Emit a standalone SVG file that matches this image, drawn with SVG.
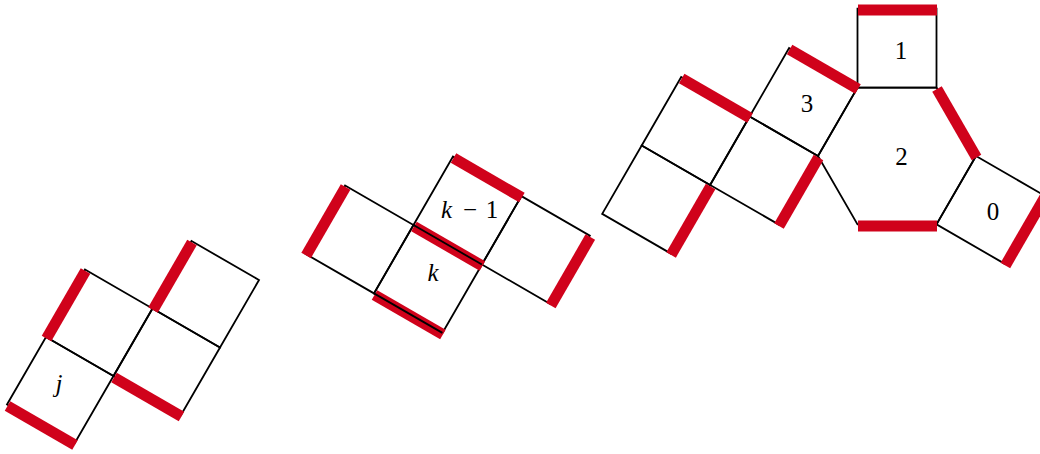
<svg xmlns="http://www.w3.org/2000/svg" width="1040" height="454" viewBox="0 0 1040 454">
<style>
.cell{fill:none;stroke:#000;stroke-width:1.8;stroke-linejoin:miter}
.edge{fill:none;stroke:#000;stroke-width:1.8}
.red{fill:none;stroke:#d0021b;stroke-width:11;stroke-linecap:butt}
.lbl{font-size:25px;fill:#000;text-anchor:middle}
.it{font-style:italic}
</style>
<rect width="1040" height="454" fill="#fff"/>
<!-- Figure 1 -->
<g id="fig1" font-family="'Liberation Serif', 'DejaVu Serif', serif">
<g id="sq-j"><polygon class="cell" points="46,337 113.5,376 74.5,443.5 7,404.5"/><text class="lbl it" x="59" y="392">j</text></g>
<g id="sq-j-tl"><polygon class="cell" points="85,269.5 152.5,308.5 113.5,376 46,337"/></g>
<g id="sq-j-mr"><polygon class="cell" points="152.5,308.5 220,347.5 181,415 113.5,376"/></g>
<g id="sq-j-tr"><polygon class="cell" points="191.5,241 259,280 220,347.5 152.5,308.5"/></g>
</g>
<!-- Figure 2 -->
<g id="fig2" font-family="'Liberation Serif', 'DejaVu Serif', serif">
<g id="sq-left"><polygon class="cell" points="345.1,185.5 413.5,225 374,293.4 305.6,253.9"/></g>
<g id="sq-k1"><polygon class="cell" points="453,156.6 521.4,196.1 481.9,264.5 413.5,225"/><text class="lbl" y="218"><tspan class="it" x="446.5">k</tspan><tspan x="470">−</tspan><tspan x="492">1</tspan></text></g>
<g id="sq-right"><polygon class="cell" points="521.4,196.1 589.8,235.6 550.3,304 481.9,264.5"/></g>
<g id="sq-k"><polygon class="cell" points="413.5,225 481.9,264.5 442.4,332.9 374,293.4"/><text class="lbl it" x="433" y="281">k</text></g>
</g>
<!-- Figure 3 -->
<g id="fig3" font-family="'Liberation Serif', 'DejaVu Serif', serif">
<g id="hex-2"><polygon class="cell" points="857.5,87.6 936.5,87.6 976,156 936.5,224.4 857.5,224.4 818,156"/><text class="lbl" x="901.5" y="165">2</text></g>
<g id="sq-1"><polygon class="cell" points="857.5,8.6 936.5,8.6 936.5,87.6 857.5,87.6"/><text class="lbl" x="901" y="59">1</text></g>
<g id="sq-3"><polygon class="cell" points="789.1,48.1 857.5,87.6 818,156 749.6,116.5"/><text class="lbl" x="807" y="112">3</text></g>
<g id="sq-a"><polygon class="cell" points="749.6,116.5 818,156 778.5,224.4 710.1,185"/></g>
<g id="sq-b"><polygon class="cell" points="681.2,77 749.6,116.5 710.1,185 641.7,145.5"/></g>
<g id="sq-c"><polygon class="cell" points="641.7,145.5 710.1,185 670.6,253.4 602.2,213.9"/></g>
<g id="sq-0"><polygon class="cell" points="976,156 1044.4,195.5 1004.9,263.9 936.5,224.4"/><text class="lbl" x="993" y="220">0</text></g>
</g>
<!-- highlighted edges -->
<g id="connectors" transform="translate(0.5,1.5)">
<line class="red" x1="7" y1="404.5" x2="74.5" y2="443.5"/>
<line class="red" x1="46" y1="337" x2="85" y2="269.5"/>
<line class="red" x1="152.5" y1="308.5" x2="191.5" y2="241"/>
<line class="red" x1="113.5" y1="376" x2="181" y2="415"/>
<line class="red" x1="345.1" y1="185.5" x2="305.6" y2="253.9"/>
<line class="red" x1="453" y1="156.6" x2="521.4" y2="196.1"/>
<line class="red" x1="589.8" y1="235.6" x2="550.3" y2="304"/>
<line class="red" x1="413.5" y1="225" x2="481.9" y2="264.5"/>
<line class="red" x1="374" y1="293.4" x2="442.4" y2="332.9"/>
<line class="red" x1="857.5" y1="8.6" x2="936.5" y2="8.6"/>
<line class="red" x1="789.1" y1="48.1" x2="857.5" y2="87.6"/>
<line class="red" x1="681.2" y1="77" x2="749.6" y2="116.5"/>
<line class="red" x1="936.5" y1="87.6" x2="976" y2="156"/>
<line class="red" x1="857.5" y1="224.4" x2="936.5" y2="224.4"/>
<line class="red" x1="1044.4" y1="195.5" x2="1004.9" y2="263.9"/>
<line class="red" x1="818" y1="156" x2="778.5" y2="224.4"/>
<line class="red" x1="710.1" y1="185" x2="670.6" y2="253.4"/>
</g>
<g id="k-edges-over">
<line class="edge" x1="413.5" y1="225" x2="481.9" y2="264.5"/>
<line class="edge" x1="374" y1="293.4" x2="442.4" y2="332.9"/>
</g>
</svg>
